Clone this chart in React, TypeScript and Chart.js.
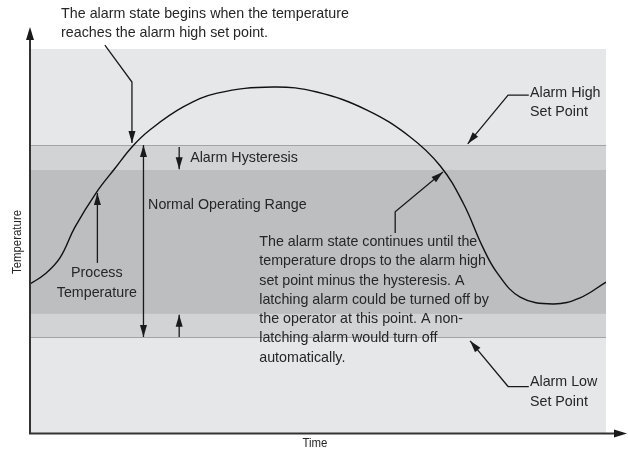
import React, { useEffect, useRef } from "react";
import { Chart, registerables } from "chart.js";

Chart.register(...registerables);

// Process temperature curve (time 0..100, temperature 0..100)
const timeValues = [0, 2.6, 5.2, 7.8, 11.6, 14.8, 17.7, 20.8, 26.6, 32.5, 42.2, 49.8, 58.5, 66.0, 71.2, 75.2, 78.6, 81.1, 85.1, 90.8, 95.5, 100];
const temperatureValues = [38.8, 41.4, 45.6, 53.6, 62.8, 69.0, 74.5, 78.9, 84.9, 88.5, 90.1, 88.8, 84.1, 77.1, 69.6, 59.9, 48.4, 41.7, 35.4, 33.6, 35.2, 39.3];

// Alarm levels
const alarmHighSetPoint = 75;
const alarmHysteresis = 6.5;
const alarmLowSetPoint = 25;
const lowHysteresis = 6;

// Annotation texts
const topNoteLines = ["The alarm state begins when the temperature", "reaches the alarm high set point."];
const continueNoteLines = [
  "The alarm state continues until the",
  "temperature drops to the alarm high",
  "set point minus the hysteresis. A",
  "latching alarm could be turned off by",
  "the operator at this point. A non-",
  "latching alarm would turn off",
  "automatically.",
];
const highLabelLines = ["Alarm High", "Set Point"];
const lowLabelLines = ["Alarm Low", "Set Point"];
const processLabelLines = ["Process", "Temperature"];
const hysteresisLabel = "Alarm Hysteresis";
const normalRangeLabel = "Normal Operating Range";
const xAxisTitle = "Time";
const yAxisTitle = "Temperature";

const FONT = '"Liberation Sans", Arial, sans-serif';
const TEXT_COLOR = "#262626";
const LINE_COLOR = "#1a1a1a";

function drawArrowHead(ctx: CanvasRenderingContext2D, x1: number, y1: number, x2: number, y2: number, len = 12, half = 3.5) {
  const ang = Math.atan2(y2 - y1, x2 - x1);
  const bx = x2 - len * Math.cos(ang);
  const by = y2 - len * Math.sin(ang);
  const px = -Math.sin(ang) * half;
  const py = Math.cos(ang) * half;
  ctx.beginPath();
  ctx.moveTo(x2, y2);
  ctx.lineTo(bx + px, by + py);
  ctx.lineTo(bx - px, by - py);
  ctx.closePath();
  ctx.fill();
}

const diagramPlugin = {
  id: "diagram",
  beforeDatasetsDraw(chart: any) {
    const { ctx, chartArea, scales } = chart;
    const y = scales.y;
    const left = chartArea.left;
    const right = chartArea.right;
    const band = (lo: number, hi: number, color: string) => {
      const top = y.getPixelForValue(hi);
      const bottom = y.getPixelForValue(lo);
      ctx.fillStyle = color;
      ctx.fillRect(left, top, right - left, bottom - top);
    };
    ctx.save();
    band(0, 100, "#e6e7e8");
    band(alarmHighSetPoint - alarmHysteresis, alarmHighSetPoint, "#d2d3d5");
    band(alarmLowSetPoint + lowHysteresis, alarmHighSetPoint - alarmHysteresis, "#bdbebf");
    band(alarmLowSetPoint, alarmLowSetPoint + lowHysteresis, "#d2d3d5");
    ctx.strokeStyle = "#a3a4a6";
    ctx.lineWidth = 1;
    for (const v of [alarmHighSetPoint, alarmLowSetPoint]) {
      const py = Math.round(y.getPixelForValue(v)) + 0.5;
      ctx.beginPath();
      ctx.moveTo(left, py);
      ctx.lineTo(right, py);
      ctx.stroke();
    }
    ctx.restore();
  },
  afterDatasetsDraw(chart: any) {
    const { ctx, chartArea, scales } = chart;
    const X = (v: number) => scales.x.getPixelForValue(v);
    const Y = (v: number) => scales.y.getPixelForValue(v);
    ctx.save();

    // horizontal compression to mimic a condensed typeface
    ctx.font = `15px ${FONT}`;
    const k = 218 / ctx.measureText(continueNoteLines[0]).width;
    const text = (s: string, x: number, y: number, align: CanvasTextAlign) => {
      ctx.save();
      ctx.translate(x, y);
      ctx.scale(k, 1);
      ctx.textAlign = align;
      ctx.fillText(s, 0, 0);
      ctx.restore();
    };

    // axes
    ctx.strokeStyle = "#333333";
    ctx.fillStyle = "#1a1a1a";
    ctx.lineWidth = 2;
    const ax = chartArea.left;
    const ay = chartArea.bottom + 0.5;
    ctx.beginPath();
    ctx.moveTo(ax, ay);
    ctx.lineTo(ax, 36);
    ctx.stroke();
    drawArrowHead(ctx, ax, ay, ax, 27, 13, 4);
    ctx.beginPath();
    ctx.moveTo(ax - 1, ay);
    ctx.lineTo(618, ay);
    ctx.stroke();
    drawArrowHead(ctx, ax, ay, 627, ay, 13, 4);

    // axis titles
    ctx.fillStyle = TEXT_COLOR;
    ctx.font = `12px ${FONT}`;
    ctx.textBaseline = "middle";
    text(xAxisTitle, 315, 444, "center");
    ctx.save();
    ctx.translate(18, 242);
    ctx.rotate(-Math.PI / 2);
    text(yAxisTitle, 0, 0, "center");
    ctx.restore();

    // leaders
    ctx.strokeStyle = LINE_COLOR;
    ctx.fillStyle = LINE_COLOR;
    ctx.lineWidth = 1.3;
    const polyArrow = (pts: number[][], doubleEnd = false) => {
      const p = pts.map(([a, b]) => [X(a), Y(b)]);
      ctx.beginPath();
      ctx.moveTo(p[0][0], p[0][1]);
      for (let i = 1; i < p.length; i++) ctx.lineTo(p[i][0], p[i][1]);
      ctx.stroke();
      const n = p.length;
      drawArrowHead(ctx, p[n - 2][0], p[n - 2][1], p[n - 1][0], p[n - 1][1]);
      if (doubleEnd) drawArrowHead(ctx, p[1][0], p[1][1], p[0][0], p[0][1]);
    };

    polyArrow([[13.0, 101.0], [17.7, 91.4], [17.7, 75.5]]);
    polyArrow([[19.7, alarmHighSetPoint], [19.7, alarmLowSetPoint]], true);
    polyArrow([[25.9, 74.5], [25.9, 68.7]]);
    polyArrow([[25.9, alarmLowSetPoint], [25.9, 30.8]]);
    polyArrow([[11.7, 44.3], [11.7, 62.5]]);
    polyArrow([[86.6, 88.0], [83.0, 88.0], [76.0, 75.3]]);
    polyArrow([[63.4, 52.1], [63.4, 57.6], [71.7, 68.0]]);
    polyArrow([[86.6, 12.1], [83.0, 12.1], [76.4, 24.0]]);

    // texts
    ctx.fillStyle = TEXT_COLOR;
    ctx.font = `15px ${FONT}`;
    ctx.textBaseline = "middle";
    const lines = (arr: string[], x: number, y0: number, dy: number, align: CanvasTextAlign = "left") => {
      arr.forEach((s, i) => text(s, X(x), Y(y0 - i * dy), align));
    };
    lines(topNoteLines, 5.4, 109.1, 4.9);
    lines(continueNoteLines, 39.8, 49.8, 5.03);
    lines(highLabelLines, 86.8, 88.6, 4.95);
    lines(lowLabelLines, 86.8, 13.3, 5.2);
    lines(processLabelLines, 11.6, 41.7, 5.2, "center");
    lines([hysteresisLabel], 27.8, 71.6, 0);
    lines([normalRangeLabel], 20.5, 59.4, 0);

    ctx.restore();
  },
};

export default function App() {
  const ref = useRef<HTMLCanvasElement | null>(null);
  useEffect(() => {
    if (!ref.current) return;
    const chart = new Chart(ref.current, {
      type: "line",
      data: {
        datasets: [
          {
            label: "Process Temperature",
            data: timeValues.map((t, i) => ({ x: t, y: temperatureValues[i] })),
            borderColor: "#111111",
            borderWidth: 1.4,
            pointRadius: 0,
            tension: 0.4,
            fill: false,
          },
        ],
      },
      options: {
        animation: false,
        responsive: true,
        maintainAspectRatio: false,
        layout: { padding: { left: 30, top: 49, right: 22, bottom: 22 } },
        plugins: { legend: { display: false }, tooltip: { enabled: false } },
        scales: {
          x: { type: "linear", min: 0, max: 100, display: false },
          y: { type: "linear", min: 0, max: 100, display: false },
        },
      },
      plugins: [diagramPlugin],
    });
    return () => chart.destroy();
  }, []);
  return (
    <div style={{ position: "fixed", left: 0, top: 0, width: 628, height: 455, background: "#fff" }}>
      <canvas ref={ref} />
    </div>
  );
}
